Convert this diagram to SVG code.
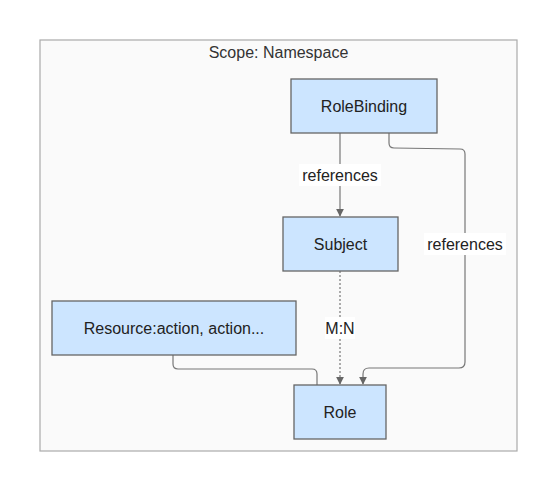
<svg xmlns="http://www.w3.org/2000/svg" width="557" height="491" viewBox="0 0 557 491">
<style>
text{font-family:"Liberation Sans",Arial,sans-serif;font-size:16px;fill:#222;text-anchor:middle;dominant-baseline:central}
.node rect{fill:#cce5ff;stroke:#666;stroke-width:1.3}
.edge{fill:none;stroke:#777;stroke-width:1.2}
.lbl{fill:#fff}
</style>
<defs>
<marker id="arr" viewBox="0 0 10 10" refX="9" refY="5" markerWidth="8" markerHeight="8" markerUnits="userSpaceOnUse" orient="auto"><path d="M0,0 L10,5 L0,10 z" fill="#666"/></marker>
</defs>
<rect width="557" height="491" fill="#fff"/>
<g id="scope">
<rect x="40" y="40" width="477" height="411" fill="#fafafa" stroke="#aaa" stroke-width="1.2"/>
<text x="278.5" y="52" style="fill:#333">Scope: Namespace</text>
</g>
<g id="connectors">
<path class="edge" d="M340,133 V216" marker-end="url(#arr)"/>
<path class="edge" d="M389,133 V143 Q389,148 394,148 L460,149 Q465,149 465,154 V362 Q465,368 459,368 L369,368 Q363,368 363,374 V384" marker-end="url(#arr)"/>
<path class="edge" d="M340,271 V384" stroke-dasharray="2,2" marker-end="url(#arr)"/>
<path class="edge" d="M173,355 V364 Q173,369 178,369 L312,369 Q317,369 317,374 V385"/>
<rect class="lbl" x="299" y="164" width="82" height="22"/>
<text x="340" y="175">references</text>
<rect class="lbl" x="424" y="233" width="82" height="22"/>
<text x="465" y="244">references</text>
<rect class="lbl" x="325" y="317" width="30" height="22"/>
<text x="340" y="328">M:N</text>
</g>
<g id="RoleBinding" class="node"><rect x="291" y="79" width="146" height="54"/><text x="364" y="106">RoleBinding</text></g>
<g id="Subject" class="node"><rect x="283" y="217" width="115" height="54"/><text x="340.5" y="244">Subject</text></g>
<g id="Resource" class="node"><rect x="52" y="301" width="244" height="54"/><text x="174" y="328">Resource:action, action...</text></g>
<g id="Role" class="node"><rect x="294" y="385" width="92" height="54"/><text x="340" y="412">Role</text></g>
</svg>
